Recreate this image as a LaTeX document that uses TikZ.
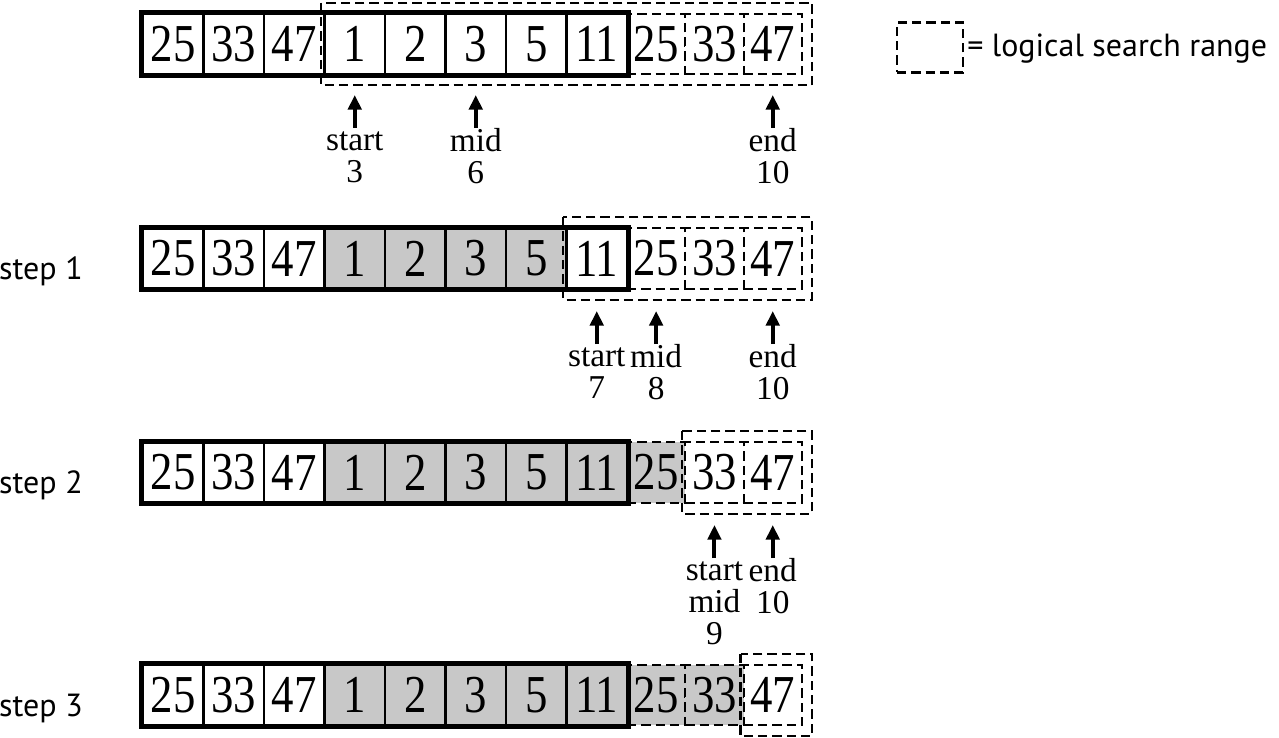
\documentclass[tikz,border=0pt]{standalone}
\usepackage{fontspec}
\setmainfont{Liberation Serif}
\newfontfamily\cellfont[FakeStretch=0.84]{Liberation Serif}
\newfontfamily\stepfont{PT Sans}
\usepackage{tikz}
\usetikzlibrary{arrows.meta,calc,positioning}
\definecolor{cellgray}{RGB}{200,200,200}

\tikzset{
  cell/.style={draw,line width=1.6pt,minimum width=45.4pt,minimum height=45.5pt,
    inner sep=0pt,font=\cellfont\fontsize{40}{40}\selectfont},
  vcell/.style={cell,dash pattern=on 7pt off 3.75pt,line width=1.6pt,minimum width=43.7pt},
  frame/.style={line width=3.75pt},
  searchbox/.style={draw,dash pattern=on 7pt off 3.75pt,line width=1.6pt},
  ptr/.style={-{Triangle[length=11pt,width=10pt]},line width=3pt},
  ptrlabel/.style={anchor=north,align=center,inner sep=0pt,font=\fontsize{25}{24}\selectfont},
  steplabel/.style={anchor=base,font=\stepfont\fontsize{24}{24}\selectfont}
}

\begin{document}
\begin{tikzpicture}[x=0.75pt,y=-0.75pt]
\useasboundingbox (0,0) rectangle (1279,738);

% the four rows of the array
\foreach \r/\y/\g/\s in {1/44/2/3, 2/258.5/6/7, 3/472.5/8/9, 4/695/9/10} {
  \foreach \v [count=\i from 0] in {25,33,47,1,2,3,5,11} {
    \ifnum\i>2 \ifnum\i>\g \def\fc{white}\else\def\fc{cellgray}\fi \else \def\fc{white}\fi
    \node[cell,fill=\fc] (r\r c\i) at ({143+60.5*(\i+0.5)},\y) {\v};
  }
  \foreach \v [count=\i from 8] in {25,33,47} {
    \ifnum\i>\g \def\fc{white}\else\def\fc{cellgray}\fi
    \node[vcell,fill=\fc] (r\r c\i) at ({627+58.3*(\i-7.5)},\y) {\v};
  }
  \draw[frame] (r\r c0.north west) rectangle (r\r c7.south east);
  \draw[searchbox] ($(r\r c\s.north west)+(-2,-10)$) rectangle ($(r\r c10.south east)+(9,10)$);
}

% step labels
\node[steplabel] (step1) at (41,279.5) {step 1};
\node[steplabel] (step2) at (41,493.5) {step 2};
\node[steplabel] (step3) at (41,716) {step 3};

% pointers
\node[ptrlabel] (p1s) at (r1c3 |- 0,128) {\rule{0pt}{17pt}start\\3};
\node[ptrlabel] (p1m) at (r1c5 |- 0,128) {\rule{0pt}{17pt}mid\\6};
\node[ptrlabel] (p1e) at (r1c10 |- 0,128) {\rule{0pt}{17pt}end\\10};
\node[ptrlabel] (p2s) at (r2c7 |- 0,344) {\rule{0pt}{17pt}start\\7};
\node[ptrlabel] (p2m) at (r2c8 |- 0,344) {\rule{0pt}{17pt}mid\\8};
\node[ptrlabel] (p2e) at (r2c10 |- 0,344) {\rule{0pt}{17pt}end\\10};
\node[ptrlabel] (p3s) at (r3c9 |- 0,558) {\rule{0pt}{17pt}start\\mid\\9};
\node[ptrlabel] (p3e) at (r3c10 |- 0,558) {\rule{0pt}{17pt}end\\10};

\coordinate (t1s) at (r1c3 |- 0,95);
\coordinate (t1m) at (r1c5 |- 0,95);
\coordinate (t1e) at (r1c10 |- 0,95);
\coordinate (t2s) at (r2c7 |- 0,311);
\coordinate (t2m) at (r2c8 |- 0,311);
\coordinate (t2e) at (r2c10 |- 0,311);
\coordinate (t3s) at (r3c9 |- 0,525);
\coordinate (t3e) at (r3c10 |- 0,525);

\path[ptr]
(p1s) edge (t1s)
(p1m) edge (t1m)
(p1e) edge (t1e)
(p2s) edge (t2s)
(p2m) edge (t2m)
(p2e) edge (t2e)
(p3s) edge (t3s)
(p3e) edge (t3e);

% legend
\node[searchbox,minimum width=49.5pt,minimum height=37.5pt,inner sep=0pt] (key) at (930,47.5) {};
\node[steplabel,anchor=base west,inner sep=0pt] (keytext) at (967,57) {= logical search range};
\end{tikzpicture}
\end{document}
